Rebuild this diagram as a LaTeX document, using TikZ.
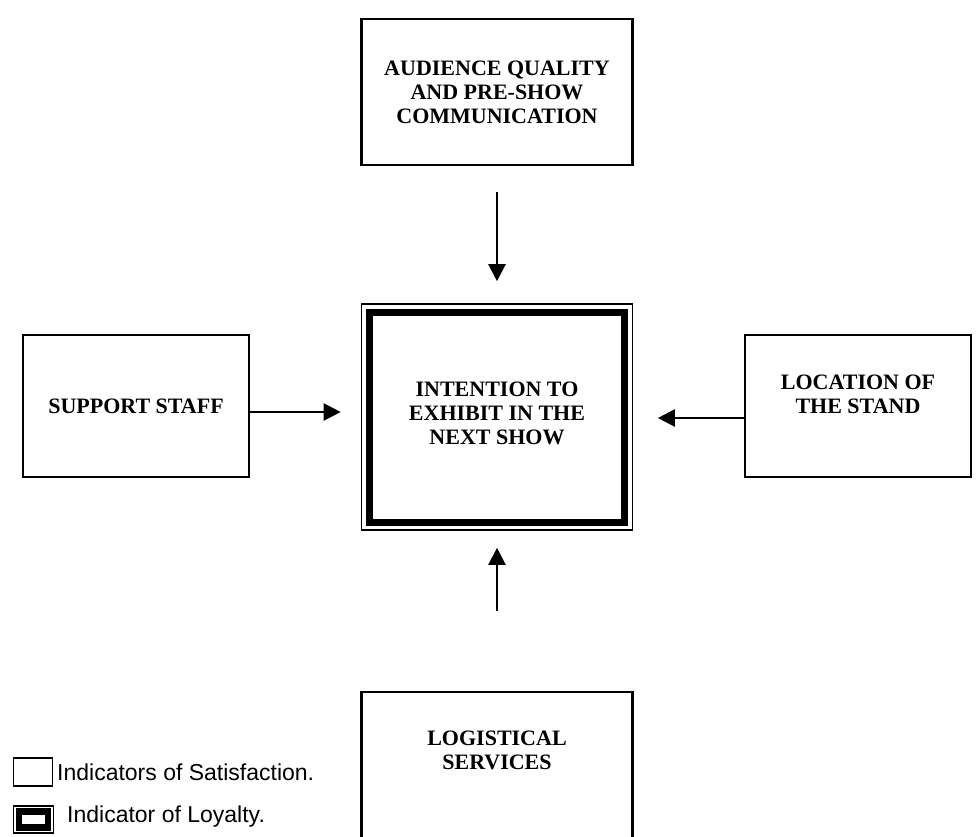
\documentclass[tikz,border=0pt]{standalone}
\usepackage{fontspec}
\setmainfont{Liberation Serif}
\setsansfont{Liberation Sans}
\usetikzlibrary{%
   arrows.meta,%
   fit,%
   positioning}

\begin{document}
\begin{tikzpicture}
[x=1pt, y=-1pt,
 typeS/.style={rectangle,draw,line width=2.2pt,inner sep=0pt,align=center,font=\fontsize{22}{24}\selectfont\bfseries},
 typeL/.style={rectangle,draw,line width=7pt,inner sep=0pt,align=center,minimum width=255pt,minimum height=210pt,font=\fontsize{22}{24}\selectfont\bfseries},
 frame/.style={rectangle,draw,line width=1.6pt,inner sep=4.5pt},
 legbox/.style={rectangle,draw,line width=1.8pt,inner sep=0pt,minimum width=39pt,minimum height=28pt},
 legmark/.style={rectangle,draw,line width=6.5pt,inner sep=0pt,minimum width=29pt,minimum height=16pt},
 legend/.style={anchor=base west,inner sep=0pt,font=\fontsize{23}{26}\selectfont\sffamily},
 link/.style={line width=2.2pt,-{Triangle[length=17pt,width=17pt]}}]
\useasboundingbox (0,0) rectangle (978,836);
\node[typeS,minimum width=271pt,minimum height=146pt] (audience) at (497,92) {AUDIENCE QUALITY\\AND PRE-SHOW\\COMMUNICATION};
\node[typeS,minimum width=226pt,minimum height=142pt] (staff) at (136,406) {SUPPORT STAFF};
\node[typeS,minimum width=226pt,minimum height=142pt,text depth=24pt] (stand) at (858,406) {LOCATION OF\\THE STAND};
\node[typeL,text depth=8pt] (intent) at (497,417) {INTENTION TO\\EXHIBIT IN THE\\NEXT SHOW};
\node[frame,fit=(intent)] (intentF) {};
\node[typeS,minimum width=271pt,minimum height=180pt,text depth=63pt,anchor=north] (logis) at (497,691) {LOGISTICAL\\SERVICES};
% legend
\node[legbox] (legS) at (33,772) {};
\node[legend] (legSText) at (57,780) {Indicators of Satisfaction.};
\node[legmark] (legL) at (33.5,819.5) {};
\node[frame,fit=(legL),inner sep=2.25pt] (legLF) {};
\node[legend] (legLText) at (67,822) {Indicator of Loyalty.};
\path (audience)                edge[link,shorten <=26pt,shorten >=22pt] (intentF)
      ([yshift=-6pt]staff.east) edge[link,shorten >=20pt] ([yshift=-6pt]staff.east -| intentF.west)
      ([yshift=-12pt]stand.west) edge[link,shorten >=24.5pt] ([yshift=-12pt]stand.west -| intentF.east)
      (logis)                   edge[link,shorten <=80pt,shorten >=17pt] (intentF);
\end{tikzpicture}
\end{document}
